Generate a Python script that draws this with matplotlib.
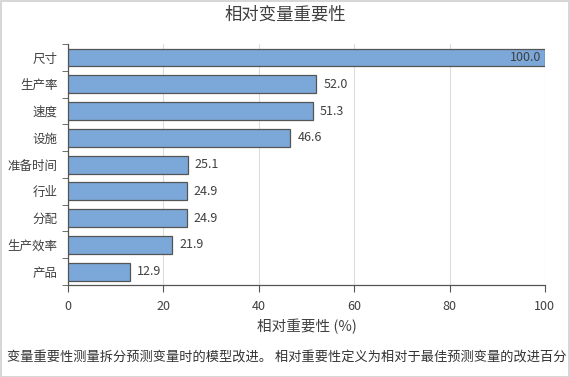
import numpy as np
import matplotlib.pyplot as plt
from matplotlib.patches import Rectangle

plt.rcParams['font.family'] = ['Noto Sans CJK SC', 'DejaVu Sans']

# --- data ---
variables = ["尺寸", "生产率", "速度", "设施", "准备时间", "行业", "分配", "生产效率", "产品"]
importance = [100.0, 52.0, 51.3, 46.6, 25.1, 24.9, 24.9, 21.9, 12.9]
x_ticks = [0, 20, 40, 60, 80, 100]
footnote = "变量重要性测量拆分预测变量时的模型改进。 相对重要性定义为相对于最佳预测变量的改进百分"

text_col = "#404040"
bar_col = "#7BA7D9"

fig = plt.figure(figsize=(5.7, 3.77), dpi=100)
ax = fig.add_axes([0.1193, 0.244, 0.8367, 0.639])

y = np.arange(len(variables))
ax.barh(y, importance, height=0.67, color=bar_col, edgecolor="#555555", linewidth=0.9, zorder=3)

for yi, v in zip(y, importance):
    if v >= 90:
        ax.text(v - 0.8, yi, f"{v:.1f}", va="center", ha="right", fontsize=9, color=text_col, zorder=4)
    else:
        ax.text(v + 1.5, yi, f"{v:.1f}", va="center", ha="left", fontsize=9, color=text_col, zorder=4)

ax.set_xlim(0, 100)
ax.set_ylim(len(variables) - 0.5, -0.5)
ax.set_xticks(x_ticks)
ax.set_xticklabels([str(t) for t in x_ticks], fontsize=9, color=text_col)
ax.set_yticks(y)
ax.set_yticklabels(variables, fontsize=9, color=text_col)
ax.set_yticks(np.arange(-0.5, len(variables)), minor=True)
ax.tick_params(axis="y", which="major", length=0, pad=7.5)
ax.tick_params(axis="y", which="minor", length=4, color="#555555", direction="out")
ax.tick_params(axis="x", length=5, color="#555555", pad=6)

ax.grid(axis="x", color="#dcdcdc", linewidth=0.8, zorder=0)
for s in ["top", "right"]:
    ax.spines[s].set_visible(False)
for s in ["left", "bottom"]:
    ax.spines[s].set_color("#555555")
    ax.spines[s].set_linewidth(0.9)

ax.set_xlabel("相对重要性 (%)", fontsize=10.5, color=text_col, labelpad=4)
fig.text(0.5, 0.962, "相对变量重要性", ha="center", va="center", fontsize=12.5, color=text_col)
fig.text(0.012, 0.05, footnote, ha="left", va="center", fontsize=9.5, color="#333333")

fig.patches.append(Rectangle((0.001, 0.001), 0.997, 0.997, transform=fig.transFigure,
                             fill=False, edgecolor="#d0d0d0", linewidth=1.2))

fig.savefig("out.png", dpi=100)
